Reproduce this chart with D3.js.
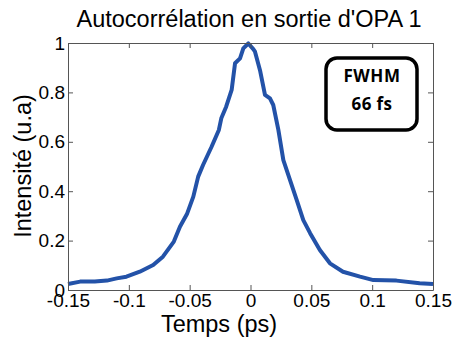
<!DOCTYPE html>
<html>
<head>
<meta charset="utf-8">
<script src="https://cdn.jsdelivr.net/npm/d3@7"></script>
<style>
  body { margin: 0; background: #fff; }
  text { font-family: "Liberation Sans", Arial, sans-serif; fill: #000; }
</style>
</head>
<body>
<div class="graph"></div>
<script>
// Data: delay (ps) and normalised intensity
var temps = [-0.150, -0.140, -0.128, -0.118, -0.110, -0.102, -0.091, -0.080, -0.072, -0.063,
             -0.058, -0.052, -0.047, -0.043, -0.039, -0.032, -0.026, -0.024, -0.020, -0.0155,
             -0.0127, -0.0086, -0.0059, -0.0018, 0.0023, 0.0037, 0.0078, 0.0119, 0.016, 0.0187,
             0.0229, 0.027, 0.0325, 0.038, 0.0434, 0.049, 0.057, 0.0653, 0.076, 0.090,
             0.101, 0.120, 0.139, 0.150];
var intensite = [0.024, 0.034, 0.034, 0.038, 0.047, 0.054, 0.074, 0.101, 0.135, 0.196,
                 0.256, 0.310, 0.378, 0.459, 0.506, 0.580, 0.648, 0.695, 0.742, 0.810,
                 0.918, 0.938, 0.978, 0.998, 0.975, 0.965, 0.890, 0.790, 0.776, 0.749,
                 0.648, 0.526, 0.445, 0.364, 0.283, 0.230, 0.162, 0.108, 0.074, 0.054,
                 0.040, 0.038, 0.027, 0.024];
var xTicks = [-0.15, -0.1, -0.05, 0, 0.05, 0.1, 0.15];
var yTicks = [0, 0.2, 0.4, 0.6, 0.8, 1];

var W = 455, H = 337;
var margin = {top: 43, right: 22, bottom: 47, left: 68},
    width = W - margin.left - margin.right,
    height = H - margin.top - margin.bottom;

var x = d3.scaleLinear().domain([-0.15, 0.15]).range([0, width]);
var y = d3.scaleLinear().domain([0, 1]).range([height, 0]);

var svg = d3.select(".graph").append("svg")
    .attr("width", W)
    .attr("height", H);

var g = svg.append("g")
    .attr("transform", "translate(" + margin.left + "," + margin.top + ")");

var fmt = function(d) { return String(d); };

// Curve
var pts = temps.map(function(t, i) { return [t, intensite[i]]; });
g.append("path")
    .datum(pts)
    .attr("fill", "none")
    .attr("stroke", "#2352a8")
    .attr("stroke-width", 4)
    .attr("stroke-linejoin", "round")
    .attr("d", d3.line()
        .x(function(d) { return x(d[0]); })
        .y(function(d) { return y(d[1]); }));

// Axes (box with inward ticks)
var axB = g.append("g").attr("transform", "translate(0," + height + ")")
    .call(d3.axisBottom(x).tickValues(xTicks).tickSizeInner(-5).tickSizeOuter(0).tickPadding(3).tickFormat(fmt));
var axT = g.append("g")
    .call(d3.axisTop(x).tickValues(xTicks).tickSizeInner(-5).tickSizeOuter(0).tickFormat(""));
var axL = g.append("g")
    .call(d3.axisLeft(y).tickValues(yTicks).tickSizeInner(-5).tickSizeOuter(0).tickPadding(3).tickFormat(fmt));
var axR = g.append("g").attr("transform", "translate(" + width + ",0)")
    .call(d3.axisRight(y).tickValues(yTicks).tickSizeInner(-5).tickSizeOuter(0).tickFormat(""));

[axB, axT, axL, axR].forEach(function(a) {
  a.selectAll("path, line").attr("stroke", "#555").attr("stroke-width", 1);
  a.selectAll("text").style("font-size", "19px").style("font-family", "Liberation Sans, Arial, sans-serif").attr("fill", "#000");
});

// Title and axis labels
svg.append("text")
    .attr("x", 249).attr("y", 27)
    .attr("text-anchor", "middle")
    .style("font-size", "23.5px")
    .text("Autocorrélation en sortie d'OPA 1");

svg.append("text")
    .attr("x", 219).attr("y", 332)
    .attr("text-anchor", "middle")
    .style("font-size", "23.5px")
    .text("Temps (ps)");

svg.append("text")
    .attr("transform", "translate(31,166) rotate(-90)")
    .attr("text-anchor", "middle")
    .style("font-size", "23.5px")
    .text("Intensité (u.a)");

// FWHM annotation box
var box = svg.append("g");
box.append("rect")
    .attr("x", 326).attr("y", 58).attr("width", 91).attr("height", 72)
    .attr("rx", 11).attr("ry", 11)
    .attr("fill", "#fff").attr("stroke", "#000").attr("stroke-width", 3.5);
box.append("text")
    .attr("x", 372).attr("y", 82)
    .attr("text-anchor", "middle")
    .style("font-family", "Open Sans, sans-serif").style("font-weight", "bold").style("font-size", "17px")
    .style("letter-spacing", "0.6px")
    .text("FWHM");
box.append("text")
    .attr("x", 372).attr("y", 110)
    .attr("text-anchor", "middle")
    .style("font-family", "Open Sans, sans-serif").style("font-weight", "bold").style("font-size", "17px")
    .style("letter-spacing", "0.4px")
    .text("66 fs");
</script>
</body>
</html>
